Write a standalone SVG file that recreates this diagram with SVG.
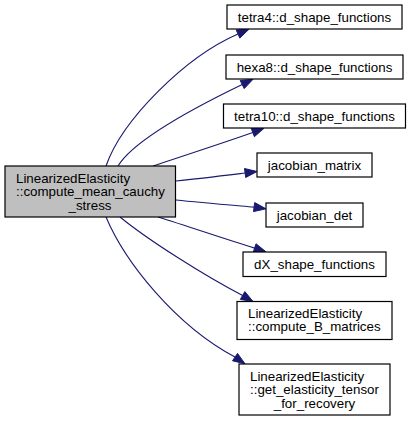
<svg xmlns="http://www.w3.org/2000/svg" width="411" height="421" viewBox="0 0 411 421">
<style>
.box{fill:#ffffff;stroke:#000000;stroke-width:1.2}
.main{fill:#bfbfbf;stroke:#000000;stroke-width:1.2}
text{font-family:"Liberation Sans",Arial,Helvetica,sans-serif;font-size:13.33px;fill:#000000}
.c{text-anchor:middle}
.l{text-anchor:start}
.edge{fill:none;stroke:#191970;stroke-width:1.1}
.head{fill:#191970;stroke:#191970;stroke-width:1}
</style>
<rect width="411" height="421" fill="#ffffff"/>
<g id="connectors">
<path class="edge" d="M106,166 C122,120 185,57 238,34"/>
<polygon class="head" points="249,29.2 239.8,38.1 236.2,29.9"/>
<path class="edge" d="M118,166 C135,138 206,102 242.2,84.5"/>
<polygon class="head" points="253,79.3 244.2,88.6 240.2,80.5"/>
<path class="edge" d="M153,166 C180,157 220,144 252.8,132.5"/>
<polygon class="head" points="264,128.3 254.4,136.7 251.2,128.3"/>
<path class="edge" d="M176,181 C200,178.5 222,175.8 245.1,173"/>
<polygon class="head" points="257,171.5 245.7,177.5 244.5,168.5"/>
<path class="edge" d="M176,200 C200,202.5 230,205 254.1,207.1"/>
<polygon class="head" points="266,208.8 253.5,211.6 254.7,202.6"/>
<path class="edge" d="M158,217 C190,227 225,239 254.6,248.1"/>
<polygon class="head" points="266,251.8 253.2,252.4 256,243.8"/>
<path class="edge" d="M120,217 C148,240 205,276 242.6,295.5"/>
<polygon class="head" points="253,301.5 240.35,299.4 244.85,291.6"/>
<path class="edge" d="M106,217 C125,262 175,325 235,357.1"/>
<polygon class="head" points="245,363.8 232.5,360.8 237.5,353.4"/>
</g>
<g id="node1">
<rect class="main" x="5" y="166" width="170.5" height="51"/>
<text class="l" x="16" y="182.7">LinearizedElasticity</text>
<text class="l" x="16" y="196.2">::compute_mean_cauchy</text>
<text class="c" x="90" y="209.7">_stress</text>
</g>
<g id="node2">
<rect class="box" x="227" y="5" width="175" height="24"/>
<text class="c" x="314.5" y="21.7">tetra4::d_shape_functions</text>
</g>
<g id="node3">
<rect class="box" x="226" y="55" width="177" height="24"/>
<text class="c" x="314.5" y="71.7">hexa8::d_shape_functions</text>
</g>
<g id="node4">
<rect class="box" x="223.5" y="104" width="182" height="24"/>
<text class="c" x="314.5" y="120.7">tetra10::d_shape_functions</text>
</g>
<g id="node5">
<rect class="box" x="257" y="153" width="115" height="24"/>
<text class="c" x="314.5" y="169.7">jacobian_matrix</text>
</g>
<g id="node6">
<rect class="box" x="266" y="203" width="97" height="24"/>
<text class="c" x="314.5" y="219.7">jacobian_det</text>
</g>
<g id="node7">
<rect class="box" x="243" y="252" width="143" height="24.5"/>
<text class="c" x="314.5" y="268.7">dX_shape_functions</text>
</g>
<g id="node8">
<rect class="box" x="237" y="301.5" width="155" height="38"/>
<text class="l" x="248" y="317.5">LinearizedElasticity</text>
<text class="l" x="248" y="331">::compute_B_matrices</text>
</g>
<g id="node9">
<rect class="box" x="239" y="364" width="151" height="51"/>
<text class="l" x="250" y="380.7">LinearizedElasticity</text>
<text class="l" x="250" y="394.2">::get_elasticity_tensor</text>
<text class="c" x="314.5" y="407.7">_for_recovery</text>
</g>
</svg>
